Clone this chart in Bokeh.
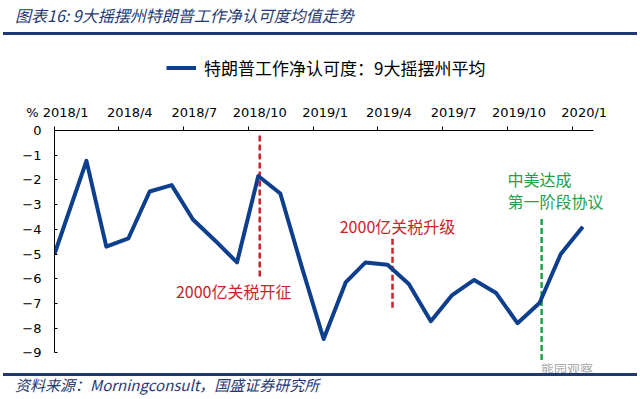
import pandas as pd
from bokeh.plotting import figure
from bokeh.layouts import column
from bokeh.models import (Range1d, FixedTicker, CustomJSTickFormatter, Label,
                          Legend, LegendItem, Div)
from bokeh.embed import file_html
from bokeh.resources import INLINE

# ---------------- data ----------------
dates = ["2018-01-01", "2018-02-15", "2018-03-15", "2018-04-15", "2018-05-15",
         "2018-06-15", "2018-07-15", "2018-08-15", "2018-09-15", "2018-10-15",
         "2018-11-15", "2018-12-15", "2019-01-15", "2019-02-15", "2019-03-15",
         "2019-04-15", "2019-05-15", "2019-06-15", "2019-07-15", "2019-08-15",
         "2019-09-15", "2019-10-15", "2019-11-15", "2019-12-15", "2020-01-15"]
approval = [-5.0, -1.23, -4.7, -4.37, -2.47, -2.21, -3.6, -4.45, -5.34, -1.84,
            -2.55, -5.5, -8.44, -6.15, -5.34, -5.43, -6.21, -7.72, -6.66, -6.05,
            -6.58, -7.8, -6.98, -5.0, -3.9]
series_name = "特朗普工作净认可度：9大摇摆州平均"

tick_labels = ["2018/1", "2018/4", "2018/7", "2018/10", "2019/1",
               "2019/4", "2019/7", "2019/10", "2020/1"]
unit_label = "%"
y_ticks = [0, -1, -2, -3, -4, -5, -6, -7, -8, -9]

red_events = ["2018-10-17", "2019-04-22"]
red_texts = ["2000亿关税开征", "2000亿关税升级"]
green_event = "2019-11-18"
green_texts = ["中美达成", "第一阶段协议"]

title_text = "图表16: 9大摇摆州特朗普工作净认可度均值走势"
source_text = "资料来源：Morningconsult，国盛证券研究所"
watermark_text = "熊园观察"

# ---------------- styles ----------------
NAVY = "#0E3F8C"
DARK = "#1F3A73"
RED = "#CC2229"
GREEN = "#1FA04A"
CJK = "Noto Sans CJK SC"


def ms(s):
    return pd.Timestamp(s).value / 1e6


x = pd.to_datetime(dates)
tick_dates = [pd.to_datetime(t, format="%Y/%m") for t in tick_labels]
# labels sit a little to the right of their tick marks
label_pos = [(d + pd.Timedelta(days=16)).value / 1e6 for d in tick_dates]
label_pos[0] = (tick_dates[0] + pd.Timedelta(days=4)).value / 1e6

line_style = dict(line_color=NAVY, line_width=4, line_join="round")

# ---------------- legend strip ----------------
# same series drawn in a strip whose ranges keep it out of view; only its legend shows
lg_fig = figure(width=640, height=60, output_backend="svg", toolbar_location=None,
                x_range=Range1d(0, 1), y_range=Range1d(0, 1),
                x_axis_location=None, y_axis_location=None)
lg_fig.min_border_left = 0
lg_fig.min_border_right = 0
lg_fig.min_border_top = 0
lg_fig.min_border_bottom = 0
lg_fig.outline_line_color = None
lg_fig.xgrid.visible = False
lg_fig.ygrid.visible = False
lg_r = lg_fig.line(x, approval, **line_style)
legend = Legend(items=[LegendItem(label=series_name, renderers=[lg_r])],
                location=(112, 15), orientation="horizontal",
                margin=0, padding=0, spacing=0,
                border_line_color=None, background_fill_alpha=0,
                glyph_width=30, glyph_height=23, label_height=23,
                label_standoff=8, label_text_font=CJK,
                label_text_font_size="17px", label_text_color="black")
lg_fig.add_layout(legend)

# ---------------- main chart ----------------
p = figure(width=640, height=267, output_backend="svg", toolbar_location=None,
           x_axis_type="datetime", x_axis_location="above",
           x_range=Range1d(ms("2018-01-01"), ms("2020-02-23")),
           y_range=Range1d(-9.35, 0))
p.min_border_left = 54
p.min_border_right = 30
p.min_border_top = 35
p.min_border_bottom = 1
p.outline_line_color = None
p.xgrid.visible = False
p.ygrid.visible = False
p.background_fill_color = "white"
p.border_fill_color = "white"

# x axis (top)
xa = p.xaxis[0]
xa.bounds = (ms("2018-01-01"), ms("2020-01-30"))
xa.ticker = FixedTicker(ticks=label_pos,
                        minor_ticks=[d.value / 1e6 for d in tick_dates])
xa.formatter = CustomJSTickFormatter(args=dict(labels=tick_labels, unit=unit_label), code="""
return (index == 0 ? unit + ' ' : '') + labels[index];
""")
xa.major_tick_out = 4
xa.major_tick_in = 0
xa.major_tick_line_color = None
xa.minor_tick_out = 4
xa.minor_tick_in = 0
xa.minor_tick_line_color = "black"
xa.axis_line_color = "black"
xa.major_label_text_font = "DejaVu Sans"
xa.major_label_text_font_size = "13px"
xa.major_label_text_color = "black"
xa.major_label_standoff = 7

# y axis
ya = p.yaxis[0]
ya.ticker = FixedTicker(ticks=y_ticks)
ya.bounds = (-9, 0)
ya.major_tick_out = 0
ya.major_tick_in = 3
ya.minor_tick_line_color = None
ya.axis_line_color = "black"
ya.major_tick_line_color = "black"
ya.major_label_text_font = "DejaVu Sans"
ya.major_label_text_font_size = "13px"
ya.major_label_text_color = "black"
ya.major_label_standoff = 13

# event lines
p.segment(x0=[ms(red_events[0])], y0=[-0.2], x1=[ms(red_events[0])], y1=[-5.95],
          line_color=RED, line_width=2.5, line_dash="6 3")
p.segment(x0=[ms(red_events[1])], y0=[-4.38], x1=[ms(red_events[1])], y1=[-7.25],
          line_color=RED, line_width=2.5, line_dash="6 3")
p.segment(x0=[ms(green_event)], y0=[-3.58], x1=[ms(green_event)], y1=[-9.35],
          line_color=GREEN, line_width=2.5, line_dash="6 3")

# main series
p.line(x, approval, **line_style)

# event labels
p.add_layout(Label(x=ms(red_events[0]), y=-6.51, x_offset=-26, text=red_texts[0],
                   text_align="center", text_baseline="middle", text_font=CJK,
                   text_font_size="16px", text_color=RED))
p.add_layout(Label(x=ms(red_events[1]), y=-3.86, x_offset=5, text=red_texts[1],
                   text_align="center", text_baseline="middle", text_font=CJK,
                   text_font_size="16px", text_color=RED))
p.add_layout(Label(x=ms(green_event), y=-1.97, x_offset=-34, text=green_texts[0],
                   text_align="left", text_baseline="middle", text_font=CJK,
                   text_font_size="16px", text_color=GREEN))
p.add_layout(Label(x=ms(green_event), y=-2.85, x_offset=-34, text=green_texts[1],
                   text_align="left", text_baseline="middle", text_font=CJK,
                   text_font_size="16px", text_color=GREEN))

# ---------------- title and footer blocks ----------------
title_div = Div(width=640, height=35, margin=0, text=f"""
<div style="position:relative;width:640px;height:35px;">
  <div style="position:absolute;left:15px;top:6px;line-height:18px;white-space:nowrap;
              font-family:'{CJK}';font-style:italic;font-size:16px;color:{DARK};">{title_text}</div>
  <div style="position:absolute;left:3px;top:32.3px;width:634px;height:2.4px;background:{DARK};"></div>
</div>""")

footer_div = Div(width=640, height=37, margin=0, text=f"""
<div style="position:relative;width:640px;height:37px;">
  <div style="position:absolute;left:541px;top:0px;line-height:14px;white-space:nowrap;
              font-family:'{CJK}';font-size:13px;color:#AAAAAA;">{watermark_text}</div>
  <div style="position:absolute;left:3px;top:11.3px;width:634px;height:2.4px;background:{DARK};"></div>
  <div style="position:absolute;left:15px;top:14px;line-height:18px;white-space:nowrap;
              font-family:'{CJK}';font-style:italic;font-size:15px;color:{DARK};">{source_text}</div>
</div>""")

layout = column(title_div, lg_fig, p, footer_div, spacing=0)

open("out.html", "w").write(file_html(layout, INLINE))
